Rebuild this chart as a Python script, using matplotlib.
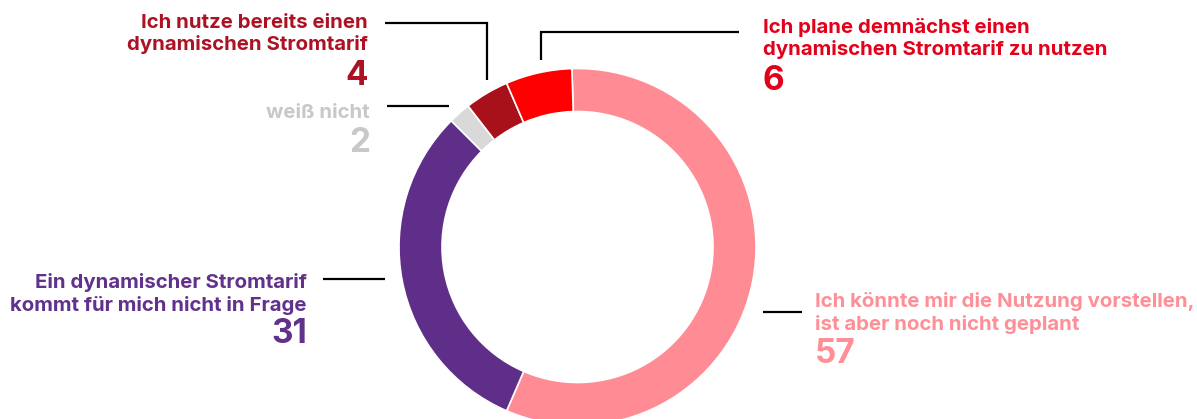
import matplotlib
matplotlib.use("Agg")
import matplotlib.pyplot as plt

# Data (clockwise from top)
categories = [
    "Ich könnte mir die Nutzung vorstellen,\nist aber noch nicht geplant",
    "Ein dynamischer Stromtarif\nkommt für mich nicht in Frage",
    "weiß nicht",
    "Ich nutze bereits einen\ndynamischen Stromtarif",
    "Ich plane demnächst einen\ndynamischen Stromtarif zu nutzen",
]
values = [57, 31, 2, 4, 6]
wedge_colors = ["#FF8C94", "#5E2E88", "#D9D9D9", "#A8101A", "#FF0000"]
text_colors = ["#FF8F96", "#61318C", "#C8C8C8", "#AC1224", "#E3001B"]

W, H = 1197, 419
fig = plt.figure(figsize=(W / 100, H / 100), dpi=100)
ax = fig.add_axes([0, 0, 1, 1])

def Y(y):
    return H - y

cx, cy, r = 577.5, 247, 178.5
ax.pie(values, colors=wedge_colors, startangle=91.8, counterclock=False,
       center=(cx, Y(cy)), radius=r,
       wedgeprops=dict(width=43, edgecolor="white", linewidth=1.2),
       frame=True)
ax.set_xlim(0, W)
ax.set_ylim(0, H)
ax.set_aspect("equal")
ax.axis("off")

FONT = "Inter"
LBL = 14.7
NUM = 24

# label layout: (x, ha, line baselines, number baseline)
layout = [
    (815, "left", [307, 330], 363),
    (307, "right", [288, 311], 343),
    (370, "right", [118], 152),
    (368, "right", [28, 50], 85),
    (763, "left", [33, 55], 90),
]

for cat, val, col, (x, ha, bls, nb) in zip(categories, values, text_colors, layout):
    for line, b in zip(cat.split("\n"), bls):
        ax.text(x, Y(b), line, ha=ha, va="baseline", color=col,
                fontsize=LBL, fontweight="bold", family=FONT)
    ax.text(x, Y(nb), str(val), ha=ha, va="baseline", color=col,
            fontsize=NUM, fontweight="bold", family=FONT)

# leader lines (pixel coords from top)
lines = [
    [(763, 312), (802, 312)],
    [(323, 279), (385, 279)],
    [(387, 106), (449, 106)],
    [(385, 23), (487, 23), (487, 80)],
    [(739, 32), (541, 32), (541, 60)],
]
for pts in lines:
    xs = [p[0] for p in pts]
    ys = [Y(p[1]) for p in pts]
    ax.plot(xs, ys, color="black", linewidth=1.6, solid_capstyle="butt",
            solid_joinstyle="miter")

fig.savefig("out.png", dpi=100, facecolor="white")
